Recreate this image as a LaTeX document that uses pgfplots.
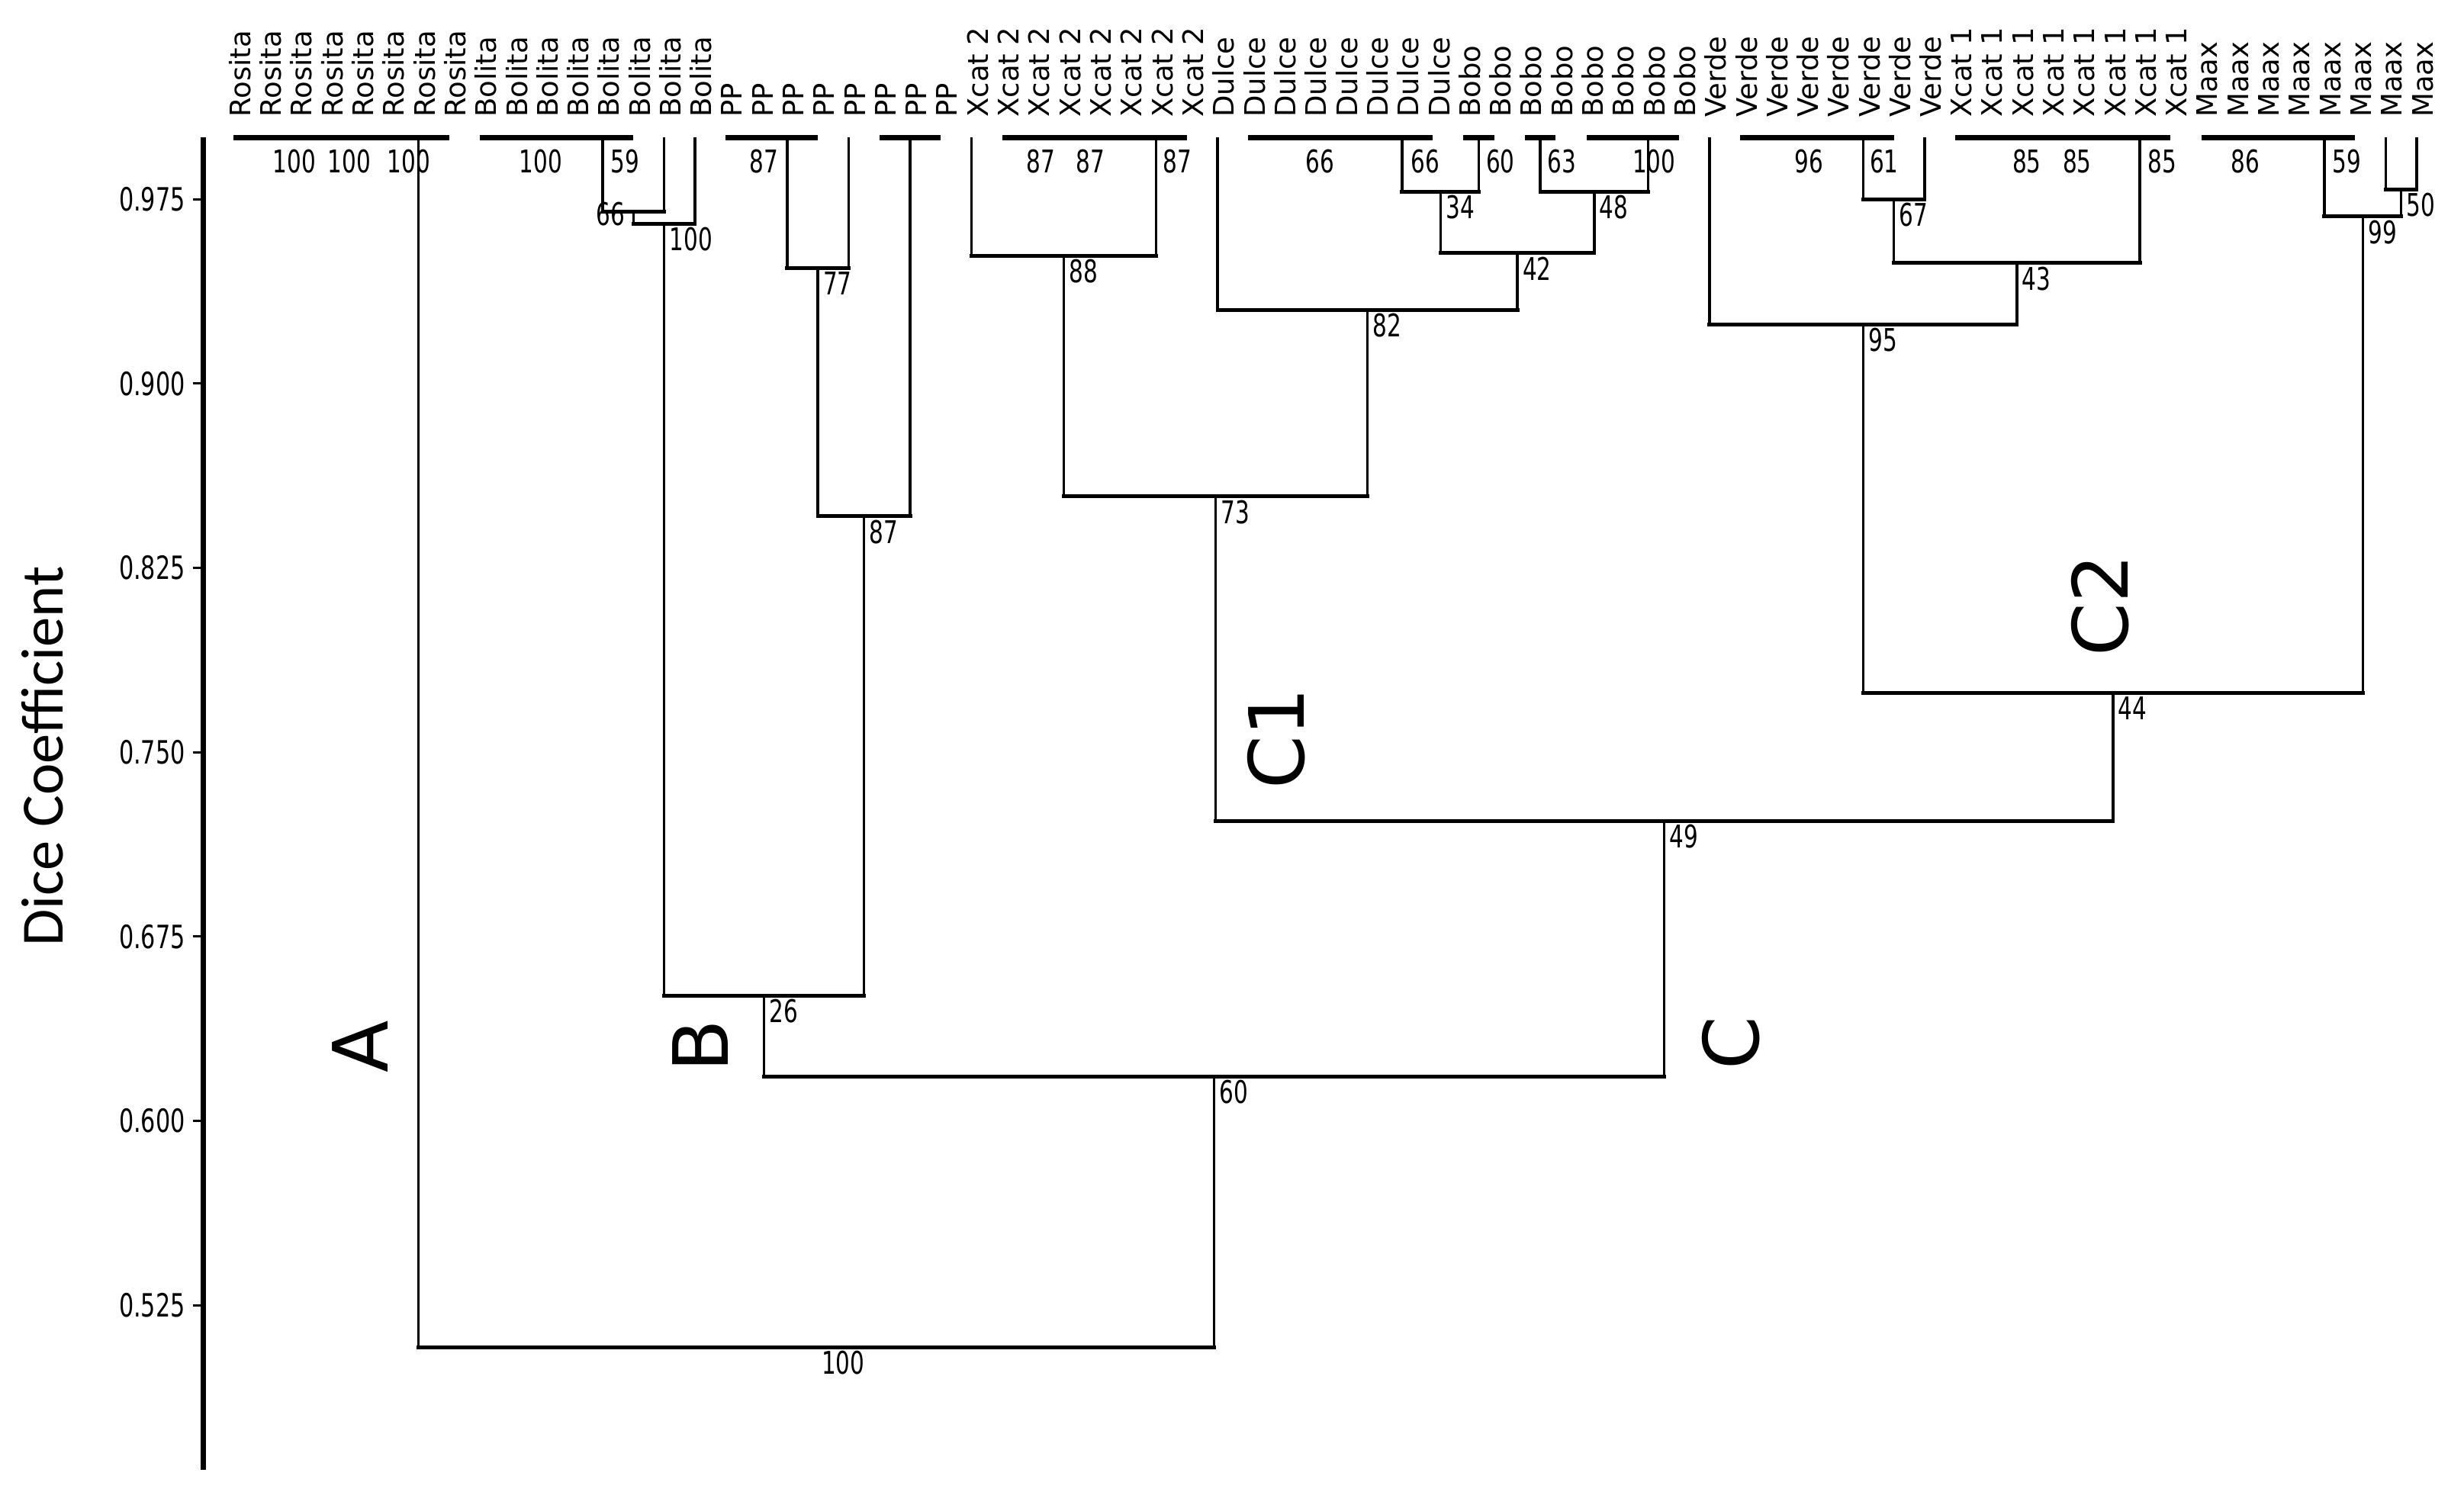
\documentclass[border=0pt]{standalone}
\usepackage{fontspec}
\setmainfont{DejaVu Sans}
\newfontfamily\numfont[FakeStretch=0.72]{DejaVu Sans}
\newfontfamily\labfont{Carlito}
\usepackage{pgfplots}
\pgfplotsset{compat=1.18}
\usepackage{pgfplotstable}

% thick bars: groups of identical profiles (Dice = 1)
\pgfplotstableread{
x y
1 1
8 1
nan nan
9 1
14 1
nan nan
17 1
20 1
nan nan
22 1
24 1
nan nan
26 1
32 1
nan nan
34 1
40 1
nan nan
41 1
42 1
nan nan
43 1
44 1
nan nan
45 1
48 1
nan nan
50 1
55 1
nan nan
57 1
64 1
nan nan
65 1
70 1
}\bars

% vertical branches
\pgfplotstableread{
x y
7 1
7 0.508
nan nan
13 1
13 0.970
nan nan
15 1
15 0.970
nan nan
14 0.970
14 0.965
nan nan
16 1
16 0.965
nan nan
15 0.965
15 0.651
nan nan
19 1
19 0.947
nan nan
21 1
21 0.947
nan nan
20 0.947
20 0.846
nan nan
23 1
23 0.846
nan nan
21.5 0.846
21.5 0.651
nan nan
18.25 0.651
18.25 0.618
nan nan
25 1
25 0.952
nan nan
31 1
31 0.952
nan nan
28 0.952
28 0.854
nan nan
33 1
33 0.930
nan nan
39 1
39 0.978
nan nan
41.5 1
41.5 0.978
nan nan
40.25 0.978
40.25 0.953
nan nan
43.5 1
43.5 0.978
nan nan
47 1
47 0.978
nan nan
45.25 0.978
45.25 0.953
nan nan
42.75 0.953
42.75 0.930
nan nan
37.875 0.930
37.875 0.854
nan nan
32.94 0.854
32.94 0.722
nan nan
49 1
49 0.924
nan nan
54 1
54 0.975
nan nan
56 1
56 0.975
nan nan
55 0.975
55 0.949
nan nan
63 1
63 0.949
nan nan
59 0.949
59 0.924
nan nan
54 0.924
54 0.774
nan nan
69 1
69 0.968
nan nan
71 1
71 0.979
nan nan
72 1
72 0.979
nan nan
71.5 0.979
71.5 0.968
nan nan
70.25 0.968
70.25 0.774
nan nan
62.125 0.774
62.125 0.722
nan nan
47.53 0.722
47.53 0.618
nan nan
32.89 0.618
32.89 0.508
}\verts

% horizontal joins
\pgfplotstableread{
x y
7 0.508
32.89 0.508
nan nan
18.25 0.618
47.53 0.618
nan nan
15 0.651
21.5 0.651
nan nan
14 0.965
16 0.965
nan nan
13 0.970
15 0.970
nan nan
20 0.846
23 0.846
nan nan
19 0.947
21 0.947
nan nan
32.94 0.722
62.125 0.722
nan nan
28 0.854
37.875 0.854
nan nan
25 0.952
31 0.952
nan nan
33 0.930
42.75 0.930
nan nan
40.25 0.953
45.25 0.953
nan nan
39 0.978
41.5 0.978
nan nan
43.5 0.978
47 0.978
nan nan
54 0.774
70.25 0.774
nan nan
49 0.924
59 0.924
nan nan
55 0.949
63 0.949
nan nan
54 0.975
56 0.975
nan nan
69 0.968
71.5 0.968
nan nan
71 0.979
72 0.979
}\horiz

\tikzset{
  nl/.style={font=\numfont\fontsize{8.2}{9}\selectfont, anchor=north west, inner sep=0pt, xshift=1.2pt, yshift=-0.8pt},
  bl/.style={font=\numfont\fontsize{8.2}{9}\selectfont, anchor=north, inner sep=0pt},
  big/.style={font=\fontsize{20}{24}\selectfont, rotate=90, anchor=center, inner sep=0pt},
  leaflab/.style={font=\fontsize{7.4}{8}\selectfont, rotate=90, anchor=west, inner sep=0pt},
}

\begin{document}
\begin{tikzpicture}
\begin{axis}[
    x=8.06pt, y=644.54pt,
    xmin=0, xmax=73.5,
    ymin=0.458, ymax=1.0,
    axis x line=none,
    axis y line*=left,
    y axis line style={line width=1.4pt},
    clip=false,
    unbounded coords=jump,
    ytick={0.525,0.600,0.675,0.750,0.825,0.900,0.975},
    scaled y ticks=false,
    tick align=outside,
    major tick length=2.7pt,
    ytick style={line width=0.6pt, black},
    yticklabel style={font=\numfont\fontsize{8.4}{9}\selectfont, inner sep=0pt, xshift=-1.8pt,
        /pgf/number format/fixed, /pgf/number format/fixed zerofill,
        /pgf/number format/precision=3, /pgf/number format/assume math mode=true},
    ylabel={Dice Coefficient},
    every axis y label/.style={at={(axis description cs:-0.07097,0.5356)}, rotate=90, anchor=center,
        font=\labfont\fontsize{15.7}{18}\selectfont},
]
\addplot[black, line width=1.3pt] table {\bars};
\addplot[black, line width=0.7pt] table {\verts};
\addplot[black, line width=1.0pt, line cap=rect] table {\horiz};

% leaf names
\foreach \n [count=\i] in {Rosita,Rosita,Rosita,Rosita,Rosita,Rosita,Rosita,Rosita,
    Bolita,Bolita,Bolita,Bolita,Bolita,Bolita,Bolita,Bolita,
    PP,PP,PP,PP,PP,PP,PP,PP,
    Xcat 2,Xcat 2,Xcat 2,Xcat 2,Xcat 2,Xcat 2,Xcat 2,Xcat 2,
    Dulce,Dulce,Dulce,Dulce,Dulce,Dulce,Dulce,Dulce,
    Bobo,Bobo,Bobo,Bobo,Bobo,Bobo,Bobo,Bobo,
    Verde,Verde,Verde,Verde,Verde,Verde,Verde,Verde,
    Xcat 1,Xcat 1,Xcat 1,Xcat 1,Xcat 1,Xcat 1,Xcat 1,Xcat 1,
    Maax,Maax,Maax,Maax,Maax,Maax,Maax,Maax} {
  \pgfmathsetmacro\xx{\i+0.2}
  \edef\tmp{\noexpand\node[leaflab] at (axis cs:\xx,1.008) {\n};}
  \tmp
}

% bootstrap values under the bars
\node[bl] at (axis cs:2.97,0.9955) {100};
\node[bl] at (axis cs:4.76,0.9955) {100};
\node[bl] at (axis cs:6.69,0.9955) {100};
\node[bl] at (axis cs:10.98,0.9955) {100};
\node[bl] at (axis cs:13.72,0.9955) {59};
\node[bl] at (axis cs:18.24,0.9955) {87};
\node[bl] at (axis cs:27.25,0.9955) {87};
\node[bl] at (axis cs:28.86,0.9955) {87};
\node[bl] at (axis cs:31.69,0.9955) {87};
\node[bl] at (axis cs:36.34,0.9955) {66};
\node[bl] at (axis cs:39.75,0.9955) {66};
\node[bl] at (axis cs:42.2,0.9955) {60};
\node[bl] at (axis cs:44.2,0.9955) {63};
\node[bl] at (axis cs:47.2,0.9955) {100};
\node[bl] at (axis cs:52.23,0.9955) {96};
\node[bl] at (axis cs:54.68,0.9955) {61};
\node[bl] at (axis cs:59.32,0.9955) {85};
\node[bl] at (axis cs:60.96,0.9955) {85};
\node[bl] at (axis cs:63.72,0.9955) {85};
\node[bl] at (axis cs:66.44,0.9955) {86};
\node[bl] at (axis cs:69.73,0.9955) {59};

% bootstrap values at the nodes
\node[bl, anchor=center] at (axis cs:13.25,0.969) {66};
\node[nl] at (axis cs:15,0.965) {100};
\node[nl] at (axis cs:20,0.947) {77};
\node[nl] at (axis cs:21.5,0.846) {87};
\node[nl] at (axis cs:18.25,0.651) {26};
\node[nl] at (axis cs:28,0.952) {88};
\node[nl] at (axis cs:40.25,0.978) {34};
\node[nl] at (axis cs:45.25,0.978) {48};
\node[nl] at (axis cs:42.75,0.953) {42};
\node[nl] at (axis cs:37.875,0.930) {82};
\node[nl] at (axis cs:32.94,0.854) {73};
\node[nl] at (axis cs:55,0.975) {67};
\node[nl] at (axis cs:59,0.949) {43};
\node[nl] at (axis cs:54,0.924) {95};
\node[nl] at (axis cs:71.5,0.979) {50};
\node[nl] at (axis cs:70.25,0.968) {99};
\node[nl] at (axis cs:62.125,0.774) {44};
\node[nl] at (axis cs:47.53,0.722) {49};
\node[nl] at (axis cs:32.89,0.618) {60};
\node[nl] at (axis cs:19.95,0.508) {100};

% cluster letters
\node[big] at (axis cs:5.11,0.6303) {A};
\node[big] at (axis cs:16.17,0.6306) {B};
\node[big] at (axis cs:49.7,0.6315) {C};
\node[big] at (axis cs:34.9,0.7556) {C1};
\node[big] at (axis cs:61.7,0.8098) {C2};

\coordinate (bbsw) at (axis cs:-6.605,0.4481);
\coordinate (bbne) at (axis cs:73.544,1.056);
\end{axis}
\pgfresetboundingbox
\useasboundingbox (bbsw) rectangle (bbne);
\end{tikzpicture}
\end{document}
